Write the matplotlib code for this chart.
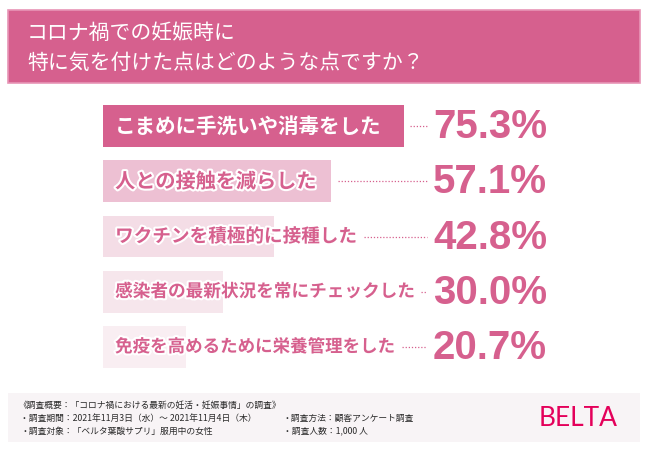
import matplotlib
matplotlib.use("Agg")
import matplotlib.pyplot as plt
import matplotlib.patheffects as pe
from matplotlib.patches import Rectangle

plt.rcParams["font.family"] = ["Noto Sans CJK JP", "DejaVu Sans"]

# data
items = [
    "こまめに手洗いや消毒をした",
    "人との接触を減らした",
    "ワクチンを積極的に接種した",
    "感染者の最新状況を常にチェックした",
    "免疫を高めるために栄養管理をした",
]
values = [75.3, 57.1, 42.8, 30.0, 20.7]
bar_colors = ["#d6608e", "#edc0d3", "#f4dde6", "#f6e6ec", "#f9eef2"]
text_colors = ["white", "#d6608e", "#d6608e", "#d6608e", "#d6608e"]
label_sizes = [14.8, 14.5, 13.4, 12.7, 12.6]

title_lines = ["コロナ禍での妊娠時に", "特に気を付けた点はどのような点ですか？"]
note_title = "《調査概要：「コロナ禍における最新の妊活・妊娠事情」の調査》"
note_left = ["・調査期間：2021年11月3日（水）～ 2021年11月4日（木）",
             "・調査対象：「ベルタ葉酸サプリ」服用中の女性"]
note_right = ["・調査方法：顧客アンケート調査", "・調査人数：1,000 人"]
brand = "BELTA"

PINK = "#d6608e"
W, H = 650, 450

fig = plt.figure(figsize=(6.5, 4.5), dpi=100)
fig.patch.set_facecolor("white")


def fx(px):
    return px / W


def fy(py):
    return 1 - py / H


# header box
fig.add_artist(Rectangle((fx(8), fy(83)), fx(632), 73 / H, transform=fig.transFigure,
                         facecolor=PINK, edgecolor="#e795b6", lw=1.2))
for i, line in enumerate(title_lines):
    fig.text(fx(27), fy(33 + 30 * i), line, color="white", fontsize=15,
             va="center", ha="left")

# footer box
fig.add_artist(Rectangle((fx(8), fy(442)), fx(632), 49 / H, transform=fig.transFigure,
                         facecolor="#f8f4f6", edgecolor="none"))
fig.text(fx(18), fy(405), note_title, fontsize=6.3, va="center", color="#2a2a2a")
for i in range(2):
    fig.text(fx(20), fy(418 + 13 * i), note_left[i], fontsize=6.3, va="center", color="#2a2a2a")
    fig.text(fx(283), fy(418 + 13 * i), note_right[i], fontsize=6.3, va="center", color="#2a2a2a")
fig.text(fx(578), fy(419), brand, fontsize=19, family=["Lato", "DejaVu Sans"],
         weight="normal", color="#e4005a", ha="center", va="center")

# bars
ax = fig.add_axes([102.7 / W, (H - 374.6) / H, 400 / W, 276.2 / H])
ypos = list(range(len(items)))
ax.barh(ypos, values, height=0.76, color=bar_colors, left=0)
ax.set_xlim(0, 100)
ax.set_ylim(len(items) - 0.5, -0.5)
ax.axis("off")

labels = []
for y, txt, tc, fs in zip(ypos, items, text_colors, label_sizes):
    t = ax.text(3.1, y, txt, color=tc, fontsize=fs, weight="bold", va="center", ha="left")
    if tc != "white":
        t.set_path_effects([pe.withStroke(linewidth=3, foreground="white")])
    labels.append(t)
    ax.text(82.6, y + 0.02, f"{values[y]:.1f}%", color=PINK, fontsize=29, weight="bold",
            family=["Liberation Sans", "DejaVu Sans"], va="center", ha="left")

# dotted leaders from the end of the label/bar to the number
fig.canvas.draw()
renderer = fig.canvas.get_renderer()
inv = ax.transData.inverted()
for y, t in zip(ypos, labels):
    text_end = inv.transform((t.get_window_extent(renderer).x1, 0))[0]
    start = max(text_end, values[y]) + 1.6
    ax.plot([start, 81.0], [y, y], color=PINK, lw=0.9, ls=(0, (1, 1.5)))

fig.savefig("out.png", dpi=100)
